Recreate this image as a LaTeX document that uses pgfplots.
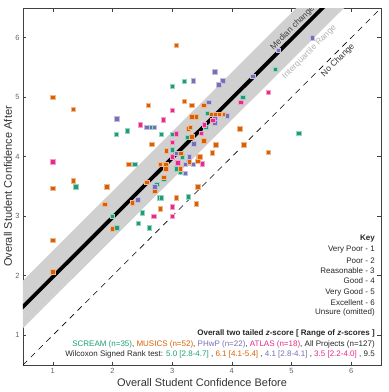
\documentclass[border=0pt]{standalone}
\usepackage{fontspec}
\setmainfont{Liberation Sans}
\usepackage{pgfplots}
\pgfplotsset{compat=1.18}

\definecolor{cscream}{HTML}{1B9E77}
\definecolor{cmusics}{HTML}{D95F02}
\definecolor{cphwp}{HTML}{7570B3}
\definecolor{catlas}{HTML}{E7298A}
\definecolor{bandgray}{RGB}{208,208,208}

\pgfplotsset{
  sq/.style={only marks, mark=square*, mark size=2.2pt,
    mark options={fill=#1, draw=#1!45!white, line width=0.4pt}},
}

\begin{document}
\begin{tikzpicture}
\useasboundingbox (-23pt,-27pt) rectangle (366pt,365pt);
\begin{axis}[
    at={(0,0)}, anchor=south west,
    scale only axis, width=358pt, height=357pt,
    xmin=0.5, xmax=6.5, ymin=0.5, ymax=6.5,
    xtick={1,...,6}, ytick={1,...,6},
    axis line style={black!75, line width=0.8pt},
    tick style={black!75, line width=0.6pt},
    major tick length=3.5pt,
    /pgf/number format/assume math mode=true,
    tick label style={font=\fontsize{7.5}{8}\selectfont, text=black!60},
    label style={font=\fontsize{11}{13}\selectfont, text=black!80},
    xlabel={Overall Student Confidence Before},
    ylabel={Overall Student Confidence After},
    xlabel style={at={(axis description cs:0.5,-0.05)}, anchor=center},
    ylabel style={at={(axis description cs:-0.042,0.5)}, anchor=center},
    clip=true,
  ]

% interquartile band, median change, no change
\addplot[fill=bandgray, draw=none] coordinates {(0,0.62) (0,1.42) (6.5,7.92) (6.5,7.12)} -- cycle;
\addplot[black, line width=3.8pt] coordinates {(0,0.98) (6.5,7.48)};
\addplot[black, line width=0.6pt, dash pattern=on 6pt off 5pt] coordinates {(0.5,0.5) (6.5,6.5)};

% SCREAM
\addplot[sq=cscream] coordinates {
(3.20,5.27) (3.00,5.19) (2.66,4.50) (2.25,4.44) (2.06,4.38) (2.82,4.38)
(3.00,4.38) (3.25,4.33) (3.00,4.12) (3.17,4.00) (2.37,3.87) (3.07,3.80)
(3.13,3.75) (2.86,3.63) (1.38,3.50) (2.74,3.54) (3.27,3.33) (2.78,3.31)
(2.82,3.31) (2.50,3.06) (2.00,3.00) (2.43,2.88) (2.62,2.81) (2.07,2.81)
(4.73,5.47) (4.18,5.00) (3.59,4.73) (3.56,4.50) (5.12,4.40)
};
% MUSICS
\addplot[sq=cmusics] coordinates {
(3.07,5.87) (1.00,5.00) (3.20,4.93) (1.34,4.80) (2.60,4.87) (3.33,4.87)
(3.53,4.87) (3.33,4.67) (3.40,4.67) (3.27,4.47) (3.30,4.50) (3.33,4.34)
(2.66,4.21) (2.90,4.10) (3.14,4.06) (3.44,4.00) (2.27,3.87) (2.80,3.87)
(2.89,3.87) (2.89,3.80) (3.27,3.90) (3.43,3.93) (3.13,3.80) (2.86,3.66)
(2.57,3.57) (1.34,3.60) (1.00,3.47) (1.90,3.50) (2.71,3.43) (3.43,3.50)
(3.07,3.31) (3.40,3.21) (1.87,3.20) (2.33,3.23) (2.80,3.13) (2.00,2.79)
(1.00,2.60) (1.00,2.07) (3.66,4.72) (3.72,4.72) (3.79,4.72) (3.87,4.72)
(3.49,4.40) (3.53,4.27) (3.73,4.20) (4.20,4.20) (4.13,4.47) (3.67,4.07)
(4.61,4.08) (3.46,4.00) (3.29,3.92)
};
% PHwP
\addplot[sq=cphwp] coordinates {
(3.35,5.28) (2.07,4.64) (2.57,4.50) (2.70,4.50) (3.36,4.22) (3.07,4.06)
(3.29,4.00) (3.22,3.87) (3.35,3.87) (3.22,3.72) (2.71,3.50) (2.42,3.28)
(5.35,6.00) (4.78,5.79) (4.35,5.35) (3.71,5.43) (3.85,5.28) (3.78,5.21)
(3.61,4.92) (3.92,4.69) (3.71,4.64) (3.71,4.57)
};
% ATLAS
\addplot[sq=catlas] coordinates {
(3.00,4.78) (2.85,4.62) (2.46,4.54) (3.07,4.39) (3.00,4.24) (1.00,3.92)
(3.00,4.00) (3.09,3.90) (3.00,3.16) (2.69,3.00) (3.00,3.00) (4.61,5.08)
(4.15,4.92) (3.68,4.61) (3.54,4.54) (3.49,4.40) (3.50,3.88)
};

% line annotations
\node[rotate=45, font=\fontsize{8.5}{9}\selectfont, text=black!75] at (axis cs:5.02,6.16) {Median change};
\node[rotate=45, font=\fontsize{8.5}{9}\selectfont, text=black!30] at (axis cs:5.3,5.76) {Interquartile Range};
\node[rotate=45, font=\fontsize{8.5}{9}\selectfont, text=black!80] at (axis cs:5.78,5.62) {No Change};

% key
\begin{scope}[every node/.style={anchor=east, font=\fontsize{8}{9}\selectfont, text=black!85, inner sep=0pt}]
\node at (rel axis cs:0.983,0.353) {\textbf{Key}};
\node at (rel axis cs:0.983,0.322) {Very Poor - 1};
\node at (rel axis cs:0.983,0.293) {Poor - 2};
\node at (rel axis cs:0.983,0.263) {Reasonable - 3};
\node at (rel axis cs:0.983,0.235) {Good - 4};
\node at (rel axis cs:0.983,0.204) {Very Good - 5};
\node at (rel axis cs:0.983,0.176) {Excellent - 6};
\node at (rel axis cs:0.983,0.147) {Unsure (omitted)};
\node at (rel axis cs:0.983,0.087) {\textbf{Overall two tailed \textit{z}-score [ Range of \textit{z}-scores ]}};
\node at (rel axis cs:0.983,0.059) {\textcolor{cscream}{SCREAM (n=35)}, \textcolor{cmusics}{MUSICS (n=52)}, \textcolor{cphwp}{PHwP (n=22)}, \textcolor{catlas}{ATLAS (n=18)}, All Projects (n=127)};
\node at (rel axis cs:0.983,0.031) {Wilcoxon Signed Rank test: \textcolor{cscream}{5.0 [2.8-4.7]} , \textcolor{cmusics}{6.1 [4.1-5.4]} , \textcolor{cphwp}{4.1 [2.8-4.1]} , \textcolor{catlas}{3.5 [2.2-4.0]} , 9.5};
\end{scope}
\end{axis}
\end{tikzpicture}
\end{document}
